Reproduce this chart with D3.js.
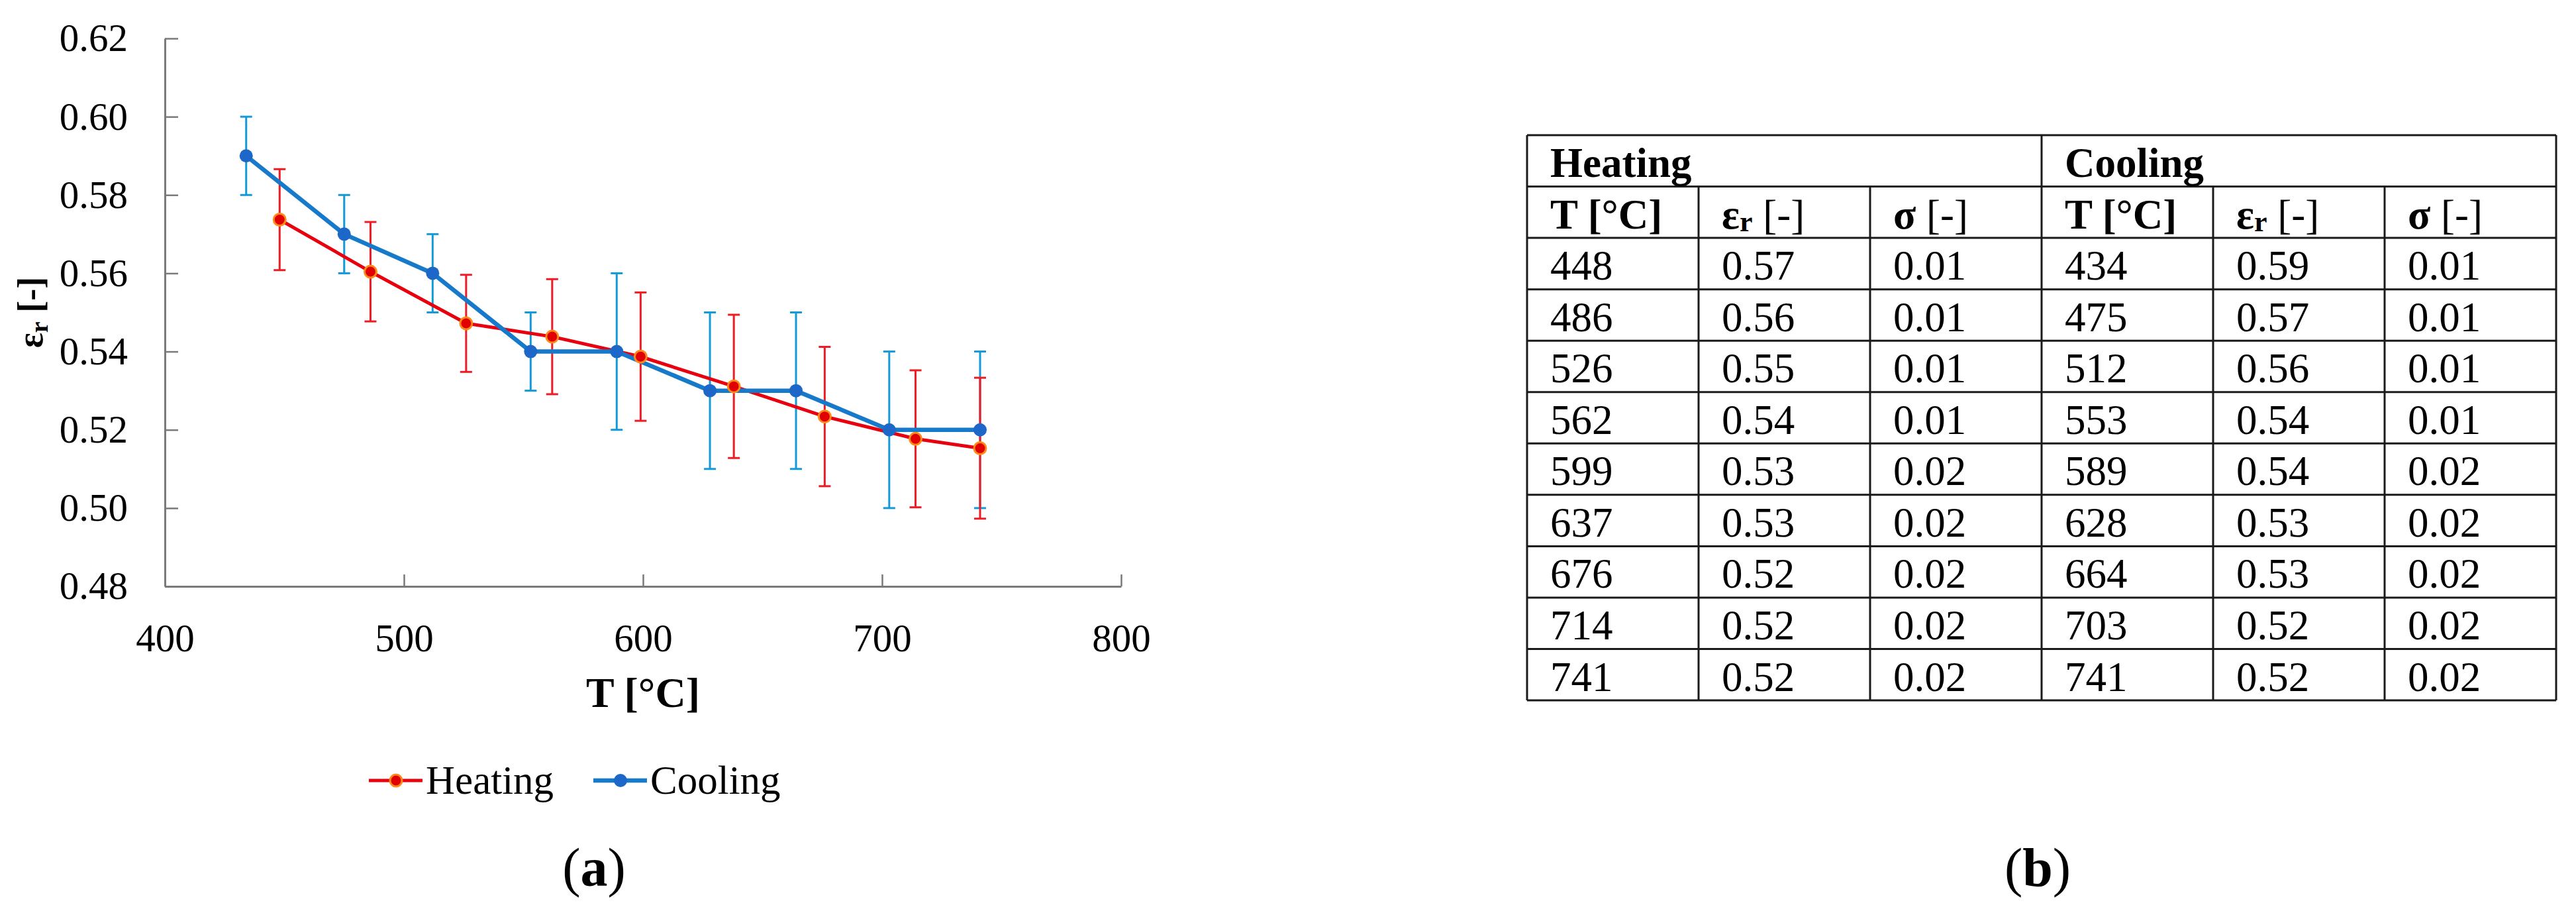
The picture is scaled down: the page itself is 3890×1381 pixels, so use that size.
<!DOCTYPE html>
<html>
<head>
<meta charset="utf-8">
<script src="https://cdn.jsdelivr.net/npm/d3@7"></script>
<style>
  html, body { margin: 0; padding: 0; background: #fff; }
  svg { display: block; }
  text { font-family: "Liberation Serif", "DejaVu Serif", serif; fill: #000; }
</style>
</head>
<body>
<svg id="chart" width="3890" height="1381"></svg>
<script>
// ---------- data ----------
const heatT   = [448, 486, 526, 562, 599, 638, 676, 714, 741];
const heatE   = [0.5737, 0.5604, 0.5472, 0.5438, 0.5387, 0.5311, 0.5234, 0.5177, 0.5153];
const heatErr = [0.0129, 0.0127, 0.0124, 0.0147, 0.0164, 0.0183, 0.0178, 0.0175, 0.0180];

const coolT   = [434, 475, 512, 553, 589, 628, 664, 703, 741];
const coolE   = [0.59, 0.57, 0.56, 0.54, 0.54, 0.53, 0.53, 0.52, 0.52];
const coolErr = [0.01, 0.01, 0.01, 0.01, 0.02, 0.02, 0.02, 0.02, 0.02];

const xTicks = [400, 500, 600, 700, 800];
const yTicks = [0.48, 0.50, 0.52, 0.54, 0.56, 0.58, 0.60, 0.62];

const seriesNames = ["Heating", "Cooling"];

// table (b)
const tableGroups  = ["Heating", "Cooling"];
const tableColumns = ["T [°C]", "εr [-]", "σ [-]", "T [°C]", "εr [-]", "σ [-]"];
const tabHeatT   = ["448", "486", "526", "562", "599", "637", "676", "714", "741"];
const tabHeatE   = ["0.57", "0.56", "0.55", "0.54", "0.53", "0.53", "0.52", "0.52", "0.52"];
const tabHeatS   = ["0.01", "0.01", "0.01", "0.01", "0.02", "0.02", "0.02", "0.02", "0.02"];
const tabCoolT   = ["434", "475", "512", "553", "589", "628", "664", "703", "741"];
const tabCoolE   = ["0.59", "0.57", "0.56", "0.54", "0.54", "0.53", "0.53", "0.52", "0.52"];
const tabCoolS   = ["0.01", "0.01", "0.01", "0.01", "0.02", "0.02", "0.02", "0.02", "0.02"];

const panelLabels = ["a", "b"];

// ---------- chart ----------
const svg = d3.select("#chart");
svg.append("rect").attr("width", 3890).attr("height", 1381).attr("fill", "#fff");

const x = d3.scaleLinear().domain([400, 800]).range([249, 1693]);
const y = d3.scaleLinear().domain([0.48, 0.62]).range([885, 58]);

const axisColor = "#7a7a7a";

const gx = svg.append("g").attr("transform", `translate(0,${y(0.48)})`)
  .call(d3.axisBottom(x).tickValues(xTicks).tickSizeInner(-18).tickSizeOuter(0).tickPadding(56).tickFormat(d3.format("d")));
const gy = svg.append("g").attr("transform", `translate(${x(400)},0)`)
  .call(d3.axisLeft(y).tickValues(yTicks).tickSizeInner(-20).tickSizeOuter(0).tickPadding(56).tickFormat(d3.format(".2f")));

[gx, gy].forEach(g => {
  g.select(".domain").attr("stroke", axisColor).attr("stroke-width", 3);
  g.selectAll(".tick line").attr("stroke", axisColor).attr("stroke-width", 2.5);
  g.selectAll(".tick text").attr("font-family", "Liberation Serif").attr("font-size", 59).attr("fill", "#000");
});

// axis titles
svg.append("text")
  .attr("x", (x(400) + x(800)) / 2).attr("y", 1067)
  .attr("text-anchor", "middle").attr("font-size", 64).attr("font-weight", "bold")
  .text("T [°C]");

const yl = svg.append("text")
  .attr("transform", `translate(64,${(y(0.48) + y(0.62)) / 2}) rotate(-90)`)
  .attr("text-anchor", "middle").attr("font-size", 54).attr("font-weight", "bold");
yl.append("tspan").text("ε");
yl.append("tspan").attr("font-size", 38).attr("dy", 8).text("r");
yl.append("tspan").attr("dy", -8).text(" [-]");

// series definitions
const heat = heatT.map((t, i) => ({ t, e: heatE[i], s: heatErr[i] }));
const cool = coolT.map((t, i) => ({ t, e: coolE[i], s: coolErr[i] }));

const styles = {
  Heating: { line: "#e8000e", err: "#ee1c24", fill: "#e00000", stroke: "#ff8a1a", lw: 5, r: 9, sw: 3 },
  Cooling: { line: "#1679c9", err: "#149ad8", fill: "#1c67c8", stroke: "#1c67c8", lw: 6.5, r: 10, sw: 0 }
};

function errorBars(data, st) {
  const g = svg.append("g").attr("stroke", st.err).attr("stroke-width", 3).attr("fill", "none");
  g.selectAll("line.v").data(data).join("line").attr("class", "v")
    .attr("x1", d => x(d.t)).attr("x2", d => x(d.t))
    .attr("y1", d => y(d.e + d.s)).attr("y2", d => y(d.e - d.s));
  g.selectAll("line.t").data(data).join("line").attr("class", "t")
    .attr("x1", d => x(d.t) - 9).attr("x2", d => x(d.t) + 9)
    .attr("y1", d => y(d.e + d.s)).attr("y2", d => y(d.e + d.s));
  g.selectAll("line.b").data(data).join("line").attr("class", "b")
    .attr("x1", d => x(d.t) - 9).attr("x2", d => x(d.t) + 9)
    .attr("y1", d => y(d.e - d.s)).attr("y2", d => y(d.e - d.s));
}
errorBars(cool, styles.Cooling);
errorBars(heat, styles.Heating);

const line = d3.line().x(d => x(d.t)).y(d => y(d.e));
svg.append("path").datum(heat).attr("d", line).attr("fill", "none")
  .attr("stroke", styles.Heating.line).attr("stroke-width", styles.Heating.lw).attr("stroke-linejoin", "round");
svg.append("path").datum(cool).attr("d", line).attr("fill", "none")
  .attr("stroke", styles.Cooling.line).attr("stroke-width", styles.Cooling.lw).attr("stroke-linejoin", "round");

function markers(data, st) {
  svg.append("g").selectAll("circle").data(data).join("circle")
    .attr("cx", d => x(d.t)).attr("cy", d => y(d.e)).attr("r", st.r)
    .attr("fill", st.fill).attr("stroke", st.stroke).attr("stroke-width", st.sw);
}
markers(cool, styles.Cooling);
markers(heat, styles.Heating);

// legend
const legendX = [557, 896];
seriesNames.forEach((name, i) => {
  const st = styles[name];
  const g = svg.append("g").attr("transform", `translate(${legendX[i]},1178)`);
  g.append("line").attr("x1", 0).attr("x2", 81).attr("y1", 0).attr("y2", 0)
    .attr("stroke", st.line).attr("stroke-width", st.lw);
  g.append("circle").attr("cx", 41).attr("cy", 0).attr("r", st.r)
    .attr("fill", st.fill).attr("stroke", st.stroke).attr("stroke-width", st.sw);
  g.append("text").attr("x", 86).attr("y", 20).attr("font-size", 61).text(name);
});

// panel labels
function panelLabel(cx, letter) {
  const t = svg.append("text").attr("x", cx).attr("y", 1337)
    .attr("text-anchor", "middle").attr("font-size", 82);
  t.append("tspan").text("(");
  t.append("tspan").attr("font-weight", "bold").text(letter);
  t.append("tspan").text(")");
}
panelLabel(897, panelLabels[0]);

// ---------- table (b) ----------
const tLeft = 2306, tRight = 3860, tTop = 204, rowH = 77.55, nRows = 11;
const colW = (tRight - tLeft) / 6;
const colX = d3.range(7).map(i => tLeft + i * colW);
const rowY = d3.range(nRows + 1).map(i => tTop + i * rowH);
const tab = svg.append("g");
const lc = "#1a1a1a";

// horizontal lines
tab.selectAll("line.h").data(rowY).join("line").attr("class", "h")
  .attr("x1", tLeft).attr("x2", tRight).attr("y1", d => d).attr("y2", d => d)
  .attr("stroke", lc).attr("stroke-width", 3);
// vertical lines
colX.forEach((cx, i) => {
  const top = (i === 0 || i === 3 || i === 6) ? rowY[0] : rowY[1];
  tab.append("line").attr("x1", cx).attr("x2", cx).attr("y1", top).attr("y2", rowY[nRows])
    .attr("stroke", lc).attr("stroke-width", 3);
});

const pad = 35, baseOff = 63, fs = 63;
// group header
tableGroups.forEach((g, i) => {
  tab.append("text").attr("x", colX[i * 3] + pad).attr("y", rowY[0] + baseOff)
    .attr("font-size", fs).attr("font-weight", "bold").text(g);
});
// column headers
tableColumns.forEach((c, i) => {
  const t = tab.append("text").attr("x", colX[i] + pad).attr("y", rowY[1] + baseOff)
    .attr("font-size", fs).attr("font-weight", "bold");
  if (c.startsWith("εr")) {
    t.append("tspan").text("ε");
    t.append("tspan").attr("font-size", 44).attr("dy", 4).text("r");
    t.append("tspan").attr("dy", -4).attr("font-weight", "normal").text(" [-]");
  } else if (c.startsWith("σ")) {
    t.append("tspan").text("σ");
    t.append("tspan").attr("font-weight", "normal").text(" [-]");
  } else {
    t.text(c);
  }
});
// body
const cols = [tabHeatT, tabHeatE, tabHeatS, tabCoolT, tabCoolE, tabCoolS];
cols.forEach((arr, ci) => {
  arr.forEach((v, ri) => {
    tab.append("text").attr("x", colX[ci] + pad).attr("y", rowY[ri + 2] + baseOff)
      .attr("font-size", fs).text(v);
  });
});

panelLabel(3077, panelLabels[1]);
</script>
</body>
</html>
